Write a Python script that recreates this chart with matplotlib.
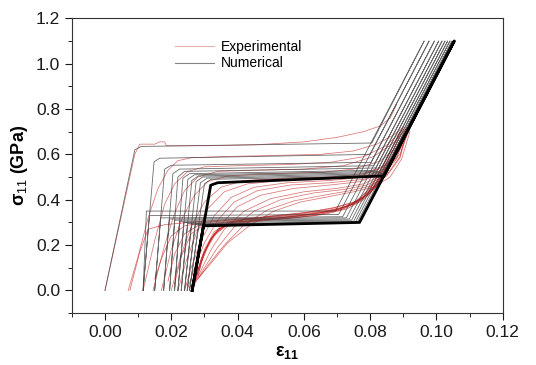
import matplotlib
matplotlib.use("Agg")
import matplotlib.pyplot as plt
from matplotlib.lines import Line2D
from matplotlib.ticker import MultipleLocator

plt.rcParams['font.family'] = ['Liberation Sans', 'DejaVu Sans']
plt.rcParams['mathtext.fontset'] = 'custom'
plt.rcParams['mathtext.rm'] = 'Liberation Sans'
plt.rcParams['mathtext.it'] = 'Liberation Sans:italic'
plt.rcParams['mathtext.bf'] = 'Liberation Sans:bold'

# ---------------- Numerical curves (piecewise linear vertices) ----------------
num_x0   = [0.0000, 0.0115, 0.0150, 0.0177, 0.0195, 0.0210, 0.0220, 0.0230, 0.0240, 0.0248, 0.0255, 0.0263]
num_xc   = [0.0090, 0.0148, 0.0180, 0.0205, 0.0220, 0.0235, 0.0250, 0.0262, 0.0275, 0.0288, 0.0300, 0.0319]
num_sc   = [0.620, 0.567, 0.535, 0.515, 0.500, 0.495, 0.490, 0.485, 0.480, 0.475, 0.470, 0.464]
num_xk   = [0.0110, 0.0165, 0.0200, 0.0225, 0.0240, 0.0255, 0.0270, 0.0282, 0.0295, 0.0308, 0.0320, 0.0340]
num_sk   = [0.635, 0.583, 0.552, 0.535, 0.525, 0.515, 0.510, 0.505, 0.500, 0.495, 0.490, 0.475]
num_xe   = [0.0805, 0.0800, 0.0803, 0.0811, 0.0817, 0.0822, 0.0829, 0.0834, 0.0838, 0.0840, 0.0841, 0.0842]
num_se   = [0.650, 0.600, 0.565, 0.550, 0.540, 0.530, 0.525, 0.520, 0.515, 0.510, 0.505, 0.505]
num_xtop = [0.0963, 0.0978, 0.0994, 0.1007, 0.1017, 0.1026, 0.1034, 0.1041, 0.1047, 0.1051, 0.1053, 0.1054]
num_stop = 1.10
num_xr   = [0.0695, 0.0705, 0.0717, 0.0728, 0.0737, 0.0744, 0.0750, 0.0755, 0.0761, 0.0765, 0.0767, 0.0768]
num_sr   = [0.350, 0.335, 0.325, 0.320, 0.315, 0.310, 0.305, 0.300, 0.300, 0.300, 0.300, 0.300]
num_xl   = [0.0125, 0.0134, 0.0168, 0.0194, 0.0210, 0.0225, 0.0238, 0.0249, 0.0261, 0.0272, 0.0283, 0.0297]
num_sl   = [0.350, 0.330, 0.320, 0.315, 0.310, 0.305, 0.300, 0.295, 0.292, 0.290, 0.288, 0.285]
num_xf   = [0.0115, 0.0115, 0.0150, 0.0177, 0.0195, 0.0210, 0.0220, 0.0230, 0.0240, 0.0248, 0.0255, 0.0263]

# ---------------- Experimental curves ----------------
exp_load_x = [
    [0, 0.0045, 0.009, 0.0105, 0.015, 0.0165, 0.018, 0.0185, 0.03, 0.045, 0.06, 0.07, 0.078, 0.083, 0.086, 0.088],
    [0.007, 0.010, 0.013, 0.016, 0.019, 0.022, 0.026, 0.035, 0.05, 0.065, 0.075, 0.082, 0.087, 0.090],
    [0.0115, 0.015, 0.018, 0.021, 0.025, 0.030, 0.040, 0.055, 0.068, 0.078, 0.085, 0.090],
    [0.0145, 0.018, 0.021, 0.024, 0.028, 0.034, 0.045, 0.06, 0.072, 0.081, 0.087, 0.091],
    [0.017, 0.020, 0.023, 0.027, 0.031, 0.037, 0.05, 0.065, 0.075, 0.083, 0.088, 0.091],
    [0.020, 0.023, 0.026, 0.030, 0.035, 0.042, 0.055, 0.068, 0.078, 0.085, 0.089, 0.092],
    [0.022, 0.0245, 0.0275, 0.031, 0.036, 0.043, 0.054, 0.067, 0.077, 0.084, 0.088, 0.0915],
    [0.024, 0.026, 0.029, 0.033, 0.038, 0.045, 0.055, 0.068, 0.078, 0.085, 0.089, 0.091],
    [0.025, 0.027, 0.030, 0.034, 0.039, 0.046, 0.056, 0.068, 0.078, 0.084, 0.088, 0.0905],
    [0.026, 0.028, 0.031, 0.035, 0.040, 0.047, 0.057, 0.068, 0.077, 0.084, 0.088, 0.091],
    [0.027, 0.029, 0.032, 0.036, 0.042, 0.050, 0.060, 0.070, 0.078, 0.084, 0.088, 0.0905],
    [0.0275, 0.030, 0.034, 0.039, 0.045, 0.053, 0.063, 0.072, 0.079, 0.085, 0.089, 0.091],
    [0.028, 0.031, 0.036, 0.042, 0.049, 0.057, 0.066, 0.074, 0.080, 0.085, 0.089, 0.0915],
    [0.0285, 0.032, 0.037, 0.044, 0.051, 0.059, 0.068, 0.075, 0.081, 0.086, 0.0895, 0.092],
]
exp_load_y = [
    [0, 0.30, 0.60, 0.645, 0.645, 0.655, 0.655, 0.638, 0.638, 0.642, 0.655, 0.675, 0.70, 0.725, 0.76, 0.82],
    [0, 0.15, 0.32, 0.45, 0.53, 0.572, 0.585, 0.59, 0.595, 0.60, 0.615, 0.645, 0.685, 0.72],
    [0, 0.22, 0.38, 0.47, 0.525, 0.545, 0.55, 0.555, 0.565, 0.59, 0.64, 0.71],
    [0, 0.20, 0.34, 0.44, 0.50, 0.525, 0.53, 0.535, 0.55, 0.59, 0.65, 0.715],
    [0, 0.18, 0.31, 0.42, 0.48, 0.505, 0.515, 0.52, 0.535, 0.57, 0.63, 0.70],
    [0, 0.16, 0.28, 0.39, 0.455, 0.485, 0.495, 0.50, 0.515, 0.555, 0.62, 0.71],
    [0, 0.13, 0.25, 0.36, 0.435, 0.47, 0.485, 0.49, 0.505, 0.545, 0.61, 0.70],
    [0, 0.10, 0.22, 0.33, 0.41, 0.455, 0.475, 0.485, 0.50, 0.54, 0.60, 0.68],
    [0.01, 0.10, 0.21, 0.31, 0.39, 0.44, 0.465, 0.475, 0.49, 0.53, 0.60, 0.69],
    [0.02, 0.09, 0.19, 0.29, 0.37, 0.42, 0.45, 0.465, 0.48, 0.52, 0.59, 0.70],
    [0.03, 0.09, 0.18, 0.27, 0.35, 0.405, 0.435, 0.45, 0.47, 0.51, 0.58, 0.69],
    [0.04, 0.10, 0.19, 0.28, 0.35, 0.40, 0.43, 0.445, 0.465, 0.51, 0.59, 0.71],
    [0.05, 0.11, 0.20, 0.29, 0.355, 0.395, 0.42, 0.44, 0.46, 0.505, 0.585, 0.72],
    [0.06, 0.12, 0.21, 0.29, 0.35, 0.39, 0.415, 0.435, 0.455, 0.50, 0.58, 0.70],
]
exp_unload_x = [
    [0.090, 0.087, 0.084, 0.081, 0.078, 0.074, 0.068, 0.058, 0.045, 0.035, 0.025, 0.018, 0.013, 0.0105, 0.0075],
    [0.091, 0.088, 0.085, 0.082, 0.079, 0.075, 0.069, 0.060, 0.048, 0.038, 0.030, 0.024, 0.020, 0.017, 0.015],
    [0.091, 0.088, 0.085, 0.082, 0.078, 0.073, 0.066, 0.056, 0.046, 0.038, 0.033, 0.030, 0.028, 0.027],
    [0.0905, 0.0875, 0.0845, 0.0815, 0.0775, 0.072, 0.064, 0.054, 0.044, 0.037, 0.033, 0.030, 0.028, 0.027],
    [0.090, 0.087, 0.084, 0.081, 0.077, 0.071, 0.063, 0.053, 0.043, 0.036, 0.032, 0.029, 0.0275],
    [0.0915, 0.088, 0.085, 0.082, 0.078, 0.073, 0.066, 0.057, 0.047, 0.039, 0.034, 0.031, 0.029, 0.028],
    [0.089, 0.086, 0.083, 0.080, 0.076, 0.070, 0.062, 0.052, 0.042, 0.035, 0.030, 0.026, 0.023, 0.021],
    [0.0885, 0.0855, 0.0825, 0.0795, 0.0755, 0.070, 0.062, 0.052, 0.042, 0.034, 0.028, 0.024, 0.021, 0.019],
    [0.0915, 0.0885, 0.0855, 0.0825, 0.079, 0.0745, 0.068, 0.059, 0.049, 0.041, 0.036, 0.032, 0.0295, 0.028],
    [0.092, 0.089, 0.086, 0.083, 0.0795, 0.075, 0.069, 0.061, 0.051, 0.043, 0.037, 0.033, 0.030, 0.0285],
]
exp_unload_y = [
    [0.72, 0.62, 0.53, 0.46, 0.41, 0.375, 0.355, 0.335, 0.32, 0.31, 0.30, 0.29, 0.27, 0.17, 0.0],
    [0.71, 0.62, 0.53, 0.465, 0.415, 0.38, 0.355, 0.335, 0.32, 0.31, 0.30, 0.285, 0.24, 0.14, 0.05],
    [0.72, 0.63, 0.54, 0.47, 0.41, 0.37, 0.345, 0.325, 0.31, 0.30, 0.26, 0.18, 0.09, 0.03],
    [0.70, 0.61, 0.53, 0.465, 0.405, 0.36, 0.335, 0.32, 0.305, 0.29, 0.25, 0.17, 0.09, 0.02],
    [0.69, 0.60, 0.52, 0.455, 0.395, 0.355, 0.33, 0.315, 0.30, 0.28, 0.23, 0.14, 0.05],
    [0.72, 0.62, 0.53, 0.46, 0.40, 0.36, 0.335, 0.32, 0.31, 0.30, 0.27, 0.20, 0.12, 0.06],
    [0.70, 0.61, 0.52, 0.45, 0.39, 0.355, 0.335, 0.32, 0.31, 0.30, 0.29, 0.25, 0.15, 0.03],
    [0.68, 0.595, 0.515, 0.445, 0.39, 0.355, 0.335, 0.32, 0.305, 0.295, 0.285, 0.25, 0.16, 0.04],
    [0.72, 0.63, 0.545, 0.475, 0.42, 0.385, 0.36, 0.34, 0.325, 0.31, 0.29, 0.23, 0.15, 0.07],
    [0.73, 0.64, 0.55, 0.48, 0.425, 0.39, 0.365, 0.345, 0.33, 0.315, 0.30, 0.25, 0.17, 0.09],
]

x_ticks = [0.00, 0.02, 0.04, 0.06, 0.08, 0.10, 0.12]
y_ticks = [0.0, 0.2, 0.4, 0.6, 0.8, 1.0, 1.2]

# ---------------- Figure ----------------
fig = plt.figure(figsize=(5.36, 3.65), dpi=100)
ax = fig.add_axes([0.134, 0.142, 0.804, 0.808])

red = '#c41a1a'
for xs, ys in zip(exp_load_x, exp_load_y):
    ax.plot(xs, ys, color=red, lw=0.55, alpha=0.6, zorder=2)
for xs, ys in zip(exp_unload_x, exp_unload_y):
    ax.plot(xs, ys, color=red, lw=0.55, alpha=0.65, zorder=2)

n = len(num_x0)
for i in range(n):
    xs = [num_x0[i], num_xc[i], num_xk[i], num_xe[i], num_xtop[i], num_xr[i], num_xl[i], num_xf[i]]
    ys = [0.0, num_sc[i], num_sk[i], num_se[i], num_stop, num_sr[i], num_sl[i], 0.0]
    last = (i == n - 1)
    ax.plot(xs, ys, color='black' if last else '#3a3a3a',
            lw=2.0 if last else 0.6, alpha=1.0 if last else 0.75, zorder=3)

ax.set_xlim(-0.01, 0.12)
ax.set_ylim(-0.1, 1.2)
ax.set_xticks(x_ticks)
ax.set_yticks(y_ticks)
ax.set_xticklabels([f"{v:.2f}" for v in x_ticks])
ax.set_yticklabels([f"{v:.1f}" for v in y_ticks])
ax.xaxis.set_minor_locator(MultipleLocator(0.01))
ax.yaxis.set_minor_locator(MultipleLocator(0.1))
ax.tick_params(which='major', direction='out', length=5, width=0.8, labelsize=12.5,
               top=False, right=False, colors='#1a1a1a')
ax.tick_params(which='minor', direction='out', length=3, width=0.6, top=False, right=False)
for sp in ax.spines.values():
    sp.set_linewidth(0.8)
    sp.set_color('#333333')

ax.set_xlabel(r'$\mathbf{\varepsilon}_{\mathbf{11}}$', fontsize=13, labelpad=3)
ax.set_ylabel(r'$\mathbf{\sigma}_{11}$ (GPa)', fontsize=13, fontweight='bold', labelpad=4)

handles = [Line2D([], [], color=red, lw=0.8, alpha=0.35),
           Line2D([], [], color='#333333', lw=0.8, alpha=0.6)]
ax.legend(handles, ['Experimental', 'Numerical'], loc='upper left',
          bbox_to_anchor=(0.21, 0.97), frameon=False, fontsize=10,
          handlelength=2.8, handletextpad=0.5, labelspacing=0.2)

fig.savefig('out.png', dpi=100)
